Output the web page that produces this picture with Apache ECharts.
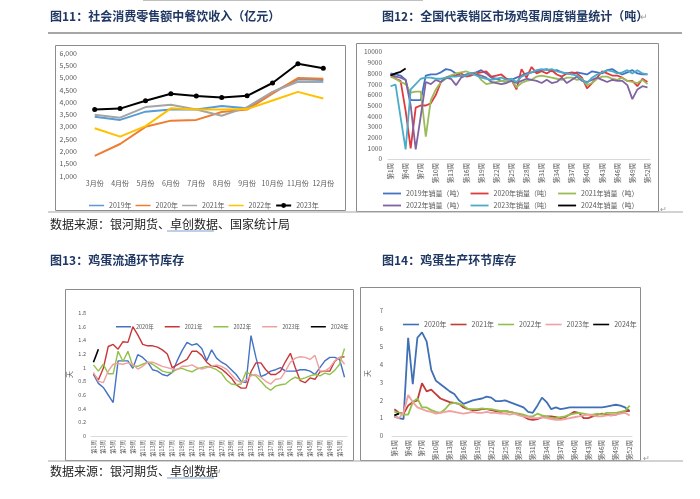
<!DOCTYPE html>
<html><head><meta charset="utf-8">
<script src="https://cdn.jsdelivr.net/npm/echarts@6/dist/echarts.min.js"></script>
<style>html,body{margin:0;padding:0;background:#fff}#c{width:700px;height:499px}</style>
</head><body><div id="c"></div>
<script>
// ---------- Chart 11: 餐饮收入 ----------
const months = ['3月份','4月份','5月份','6月份','7月份','8月份','9月份','10月份','11月份','12月份'];
const rev2019 = [3410,3280,3615,3700,3700,3850,3750,4400,4930,4900];
const rev2020 = [1820,2300,3000,3250,3280,3600,3700,4350,4980,4950];
const rev2021 = [3490,3370,3800,3900,3700,3450,3800,4420,4830,4820];
const rev2022 = [2940,2600,3030,3750,3700,3700,3720,4070,4420,4150];
const rev2023 = [3700,3740,4060,4340,4250,4190,4260,4780,5560,5380];

// ---------- Chart 12: 周度销量 ----------
const weekCats = ['第1周','第2周','第3周','第4周','第5周','第6周','第7周','第8周','第9周','第10周','第11周','第12周','第13周','第14周','第15周','第16周','第17周','第18周','第19周','第20周','第21周','第22周','第23周','第24周','第25周','第26周','第27周','第28周','第29周','第30周','第31周','第32周','第33周','第34周','第35周','第36周','第37周','第38周','第39周','第40周','第41周','第42周','第43周','第44周','第45周','第46周','第47周','第48周','第49周','第50周','第51周','第52周'];
const sales2019 = [8000,7900,7800,7400,5500,5500,5500,7800,7900,7900, 8100,8400,8300,8000,7700,7900,8000,8100,8300,8000, 7600,7500,7300,7200,7400,7600,7800,8000,8100,8200, 8300,8400,8200,8300,8100,8000,7900,8100,8000,7900, 8200,8100,8000,8300,8400,8100,7900,8100,8300,8000, 7900,7900];
const sales2020 = [7900,7500,7300,4500,1000,4800,5000,5000,5200,6000, 7200,7600,7800,7800,8000,7700,7800,8000,8100,8200, 7700,7800,7900,7500,7400,6500,8400,7600,8600,8000, 8200,8000,8300,7900,7700,8000,8100,8000,7600,6600, 7100,7600,8200,8000,7800,7800,7600,7300,7300,6800, 7500,7200];
const sales2021 = [7700,7500,7200,7000,6200,6300,6300,2100,5500,6500, 7200,7500,7800,8000,8100,8200,8000,8000,7400,7000, 7100,7200,7300,7200,7400,6700,7100,7300,7400,7700, 7800,7700,7600,7500,7400,7600,7600,7400,7500,6900, 7100,7500,7700,7700,7500,7400,7600,7300,7200,7100, 7400,7000];
const sales2022 = [7950,7700,7600,7400,5000,900,4000,7200,7000,7400, 7200,7600,7500,6900,7600,7800,8000,7900,7800,7600, 7200,7100,7000,7100,7300,7100,7300,7500,7400,7300, 7100,7400,7100,7200,7600,7100,7400,7700,7300,7200, 7400,7600,7400,7200,7400,7300,7300,6900,5600,6500, 6800,6700];
const sales2023 = [6800,6950,3900,900,6500,7000,7500,7600,7600,7500, 7500,7600,7700,7700,7800,7800,8000,7800,7600,7500, 7400,7500,7600,7400,7500,7200,7700,7900,8100,8300, 8400,8300,8400,8200,8100,8000,7900,7800,7400,7100, 7600,7900,8100,8300,8200,8000,8100,8300,8000,8300, 8000,7900];
const sales2024 = [7800,8000,8150,8450];

// ---------- Chart 13: 流通环节库存 (天) ----------
const circ2020 = [0.90,0.77,0.71,0.60,0.49,1.10,1.10,1.10,0.99,1.19, 1.15,1.08,0.97,0.95,0.90,0.88,0.93,1.10,1.25,1.37, 1.33,1.35,1.28,1.10,1.26,1.14,1.08,1.04,0.97,0.90, 0.80,0.78,1.47,1.15,0.87,0.90,0.95,0.97,1.00,0.95, 0.95,0.95,0.97,0.97,0.95,0.90,1.00,1.10,1.15,1.15, 1.12,0.86];
const circ2021 = [0.91,0.82,0.99,1.31,1.34,1.27,1.38,1.37,1.60,1.48, 1.34,1.32,1.32,1.30,1.26,1.20,1.00,1.04,1.08,1.12, 1.24,1.24,1.18,1.08,1.02,1.02,0.98,0.92,0.85,0.75, 0.70,0.70,0.94,1.07,1.07,0.97,0.90,0.90,0.95,1.09, 1.21,1.00,0.81,0.78,0.85,0.83,0.94,0.95,0.95,1.09, 1.15,1.16];
const circ2022 = [1.04,0.95,1.05,0.91,0.91,1.24,1.09,1.24,1.02,1.02, 1.05,1.08,1.05,1.00,0.95,0.93,0.93,0.98,0.99,0.96, 0.94,0.98,1.00,1.02,1.00,0.97,0.92,0.82,0.76,0.75, 0.76,0.94,0.90,0.88,0.80,0.72,0.67,0.73,0.75,0.76, 0.82,0.86,0.83,0.85,0.88,0.90,0.88,0.92,0.90,0.96, 1.05,1.28];
const circ2023 = [0.93,0.80,0.78,0.95,1.05,1.06,1.05,1.07,1.05,0.98, 1.02,1.08,1.08,1.05,1.02,1.00,0.98,0.97,1.02,1.02, 1.04,1.00,0.98,1.00,1.02,1.04,1.02,0.98,0.90,0.82, 0.78,0.82,0.88,0.90,0.86,0.80,0.76,0.83,0.84,0.95, 1.08,1.14,1.16,1.15,1.12,1.18,0.95,0.95,1.00,1.10, 1.15,1.05];
const circ2024 = [1.08,1.27];

// ---------- Chart 14: 生产环节库存 (天) ----------
const prod2020 = [1.10,1.00,0.95,5.50,2.90,5.50,5.80,5.30,3.70,3.10, 2.90,2.70,2.50,2.35,2.00,1.80,1.90,2.00,2.05,2.10, 2.20,2.15,1.95,1.95,2.00,1.90,1.80,1.70,1.60,1.35, 1.30,1.70,2.15,1.90,1.50,1.60,1.50,1.55,1.60,1.60, 1.60,1.60,1.60,1.60,1.60,1.60,1.65,1.70,1.75,1.70, 1.60,1.40];
const prod2021 = [1.50,1.30,1.25,1.70,1.90,2.00,2.95,2.50,2.60,2.35, 2.10,2.00,1.90,1.85,1.80,1.60,1.50,1.45,1.45,1.50, 1.50,1.45,1.40,1.35,1.40,1.35,1.30,1.20,1.10,0.95, 0.90,0.95,1.05,1.10,1.10,1.05,1.00,1.05,1.20,1.35, 1.30,1.00,1.00,1.10,1.20,1.25,1.20,1.15,1.20,1.30, 1.40,1.40];
const prod2022 = [1.35,1.30,1.20,1.20,1.90,2.10,1.60,1.60,1.45,1.35, 1.30,1.50,1.80,1.85,1.80,1.70,1.50,1.50,1.50,1.55, 1.50,1.50,1.45,1.40,1.40,1.35,1.30,1.25,1.20,1.10, 1.10,1.25,1.15,1.10,1.00,1.00,1.05,1.10,1.20,1.25, 1.30,1.25,1.20,1.20,1.25,1.20,1.30,1.30,1.30,1.35, 1.40,1.70];
const prod2023 = [1.10,1.00,1.30,2.30,1.90,1.60,1.50,1.40,1.35,1.25, 1.30,1.35,1.40,1.35,1.30,1.25,1.30,1.35,1.30,1.30, 1.35,1.30,1.30,1.25,1.25,1.20,1.25,1.15,1.10,1.05, 1.00,1.00,1.05,1.00,0.95,0.90,0.90,0.95,1.00,1.05, 1.10,1.15,1.20,1.15,1.10,1.10,1.15,1.15,1.20,1.25, 1.30,1.15];
const prod2024 = [1.15,1.25];

const FONT = '"Noto Sans CJK SC", "Noto Sans", sans-serif';
const LBL = '#595959';
const LINE_ICON = 'path://M0,0H20V2H0Z';
const stripTag = n => n.split('#')[0];
const items = (names) => names.map(n => ({name: n, icon: LINE_ICON}));

function line(name, data, color, xi, width, extra) {
  return Object.assign({
    type: 'line', name: name, data: data, xAxisIndex: xi, yAxisIndex: xi,
    symbol: 'none', smooth: false, lineStyle: {color: color, width: width},
    itemStyle: {color: color}, emphasis: {disabled: true}
  }, extra || {});
}

function catAxis(gi, interval, rotate, fs) {
  return {
    type: 'category', gridIndex: gi, data: gi === 0 ? months : weekCats, boundaryGap: true,
    axisTick: {show: false},
    axisLine: {show: gi !== 0, lineStyle: {color: '#d9d9d9', width: 1}},
    axisLabel: {interval: interval, rotate: rotate, fontSize: fs, color: LBL, fontFamily: FONT, margin: 4}
  };
}

const option = {
  animation: false,
  backgroundColor: '#ffffff',
  textStyle: {fontFamily: FONT},
  grid: [
    {left: 82, top: 53, width: 254, height: 123, containLabel: false},
    {left: 388, top: 52, width: 262, height: 107, containLabel: false},
    {left: 91, top: 313, width: 256, height: 123, containLabel: false},
    {left: 392, top: 311, width: 240, height: 125, containLabel: false}
  ],
  xAxis: [
    catAxis(0, 0, 0, 7),
    catAxis(1, 2, 90, 6.5),
    catAxis(2, 1, 90, 5.5),
    catAxis(3, 2, 90, 6.5)
  ],
  yAxis: [
    {type: 'value', gridIndex: 0, min: 1000, max: 6000, interval: 500, splitLine: {show: false},
     axisLine: {show: false}, axisTick: {show: false},
     axisLabel: {fontSize: 7, color: LBL, margin: 5, formatter: v => v.toLocaleString('en-US')}},
    {type: 'value', gridIndex: 1, min: 0, max: 10000, interval: 1000, splitLine: {show: false},
     axisLine: {show: false}, axisTick: {show: false},
     axisLabel: {fontSize: 6.5, color: LBL, margin: 6, formatter: v => String(v)}},
    {type: 'value', gridIndex: 2, min: 0, max: 1.8, interval: 0.2, splitLine: {show: false},
     axisLine: {show: false}, axisTick: {show: false},
     name: '天', nameLocation: 'middle', nameRotate: 90, nameGap: 18,
     nameTextStyle: {fontSize: 7, color: LBL},
     axisLabel: {fontSize: 5.5, color: LBL, margin: 5}},
    {type: 'value', gridIndex: 3, min: 0, max: 7, interval: 1, splitLine: {show: false},
     axisLine: {show: false}, axisTick: {show: false},
     name: '天', nameLocation: 'middle', nameRotate: 90, nameGap: 21,
     nameTextStyle: {fontSize: 7, color: LBL},
     axisLabel: {fontSize: 6, color: LBL, margin: 9}}
  ],
  legend: [
    {left: 84, top: 197, itemWidth: 15, itemHeight: 6, itemGap: 4, formatter: stripTag,
     textStyle: {fontSize: 7, color: LBL},
     data: items(['2019年#a','2020年#a','2021年#a','2022年#a']).concat([{name: '2023年#a'}])},
    {left: 378, top: 185, itemWidth: 18, itemHeight: 6, itemGap: 7, formatter: stripTag,
     textStyle: {fontSize: 7, color: LBL}, data: items(['2019年销量（吨）','2020年销量（吨）','2021年销量（吨）'])},
    {left: 378, top: 197, itemWidth: 18, itemHeight: 6, itemGap: 7, formatter: stripTag,
     textStyle: {fontSize: 7, color: LBL}, data: items(['2022年销量（吨）','2023年销量（吨）','2024年销量（吨）'])},
    {left: 111, top: 319, itemWidth: 15, itemHeight: 4, itemGap: 11, formatter: stripTag,
     textStyle: {fontSize: 5.5, color: LBL}, data: items(['2020年#c','2021年#c','2022年#c','2023年#c','2024年#c'])},
    {left: 398, top: 316, itemWidth: 16, itemHeight: 6, itemGap: 4, formatter: stripTag,
     textStyle: {fontSize: 7, color: LBL}, data: items(['2020年#d','2021年#d','2022年#d','2023年#d','2024年#d'])}
  ],
  series: [
    line('2019年#a', rev2019, '#5b9bd5', 0, 2),
    line('2020年#a', rev2020, '#ed7d31', 0, 2),
    line('2021年#a', rev2021, '#a5a5a5', 0, 2),
    line('2022年#a', rev2022, '#ffc000', 0, 2),
    line('2023年#a', rev2023, '#000000', 0, 2, {symbol: 'circle', symbolSize: 5, showSymbol: true}),

    line('2019年销量（吨）', sales2019, '#4472c4', 1, 1.8),
    line('2020年销量（吨）', sales2020, '#e0393e', 1, 1.8),
    line('2021年销量（吨）', sales2021, '#9bbb59', 1, 1.8),
    line('2022年销量（吨）', sales2022, '#8064a2', 1, 1.8),
    line('2023年销量（吨）', sales2023, '#4bacc6', 1, 1.8),
    line('2024年销量（吨）', sales2024, '#000000', 1, 1.8),

    line('2020年#c', circ2020, '#4472c4', 2, 1.4),
    line('2021年#c', circ2021, '#c9363a', 2, 1.4),
    line('2022年#c', circ2022, '#92c14a', 2, 1.4),
    line('2023年#c', circ2023, '#eea0a0', 2, 1.4),
    line('2024年#c', circ2024, '#000000', 2, 1.6),

    line('2020年#d', prod2020, '#3f6fb5', 3, 1.8),
    line('2021年#d', prod2021, '#c43a3a', 3, 1.8),
    line('2022年#d', prod2022, '#92c14a', 3, 1.8),
    line('2023年#d', prod2023, '#f0a0a0', 3, 1.8),
    line('2024年#d', prod2024, '#000000', 3, 1.8)
  ],
  graphic: [
    {type: 'line', shape: {x1: 143, y1: 0.5, x2: 423, y2: 0.5}, style: {stroke: '#c0c0c0', lineWidth: 1}},
    {type: 'text', x: 50, y: 16, style: {text: '图11：社会消费零售额中餐饮收入（亿元）', fontSize: 12, fontWeight: 'bold', fontFamily: FONT, fill: '#1f3763', verticalAlign: 'middle'}},
    {type: 'text', x: 382, y: 16, style: {text: '图12：全国代表销区市场鸡蛋周度销量统计（吨）', fontSize: 12, fontWeight: 'bold', fontFamily: FONT, fill: '#1f3763', verticalAlign: 'middle'}},
    {type: 'text', x: 640, y: 17, style: {text: '↵', fontSize: 9, fontFamily: FONT, fill: '#999999', verticalAlign: 'middle'}},
    {type: 'line', shape: {x1: 48, y1: 33, x2: 682, y2: 33}, style: {stroke: '#a6a6a6', lineWidth: 2}},
    {type: 'rect', shape: {x: 55.5, y: 45.5, width: 290, height: 165}, style: {fill: 'none', stroke: '#8c8c8c', lineWidth: 1}},
    {type: 'rect', shape: {x: 356.5, y: 43.5, width: 302, height: 168}, style: {fill: 'none', stroke: '#8c8c8c', lineWidth: 1}},
    {type: 'text', x: 660, y: 209, style: {text: '↵', fontSize: 8, fontFamily: FONT, fill: '#999999', verticalAlign: 'middle'}},
    {type: 'line', shape: {x1: 48, y1: 212, x2: 683, y2: 212}, style: {stroke: '#a6a6a6', lineWidth: 1.2}},
    {type: 'text', x: 50, y: 224, style: {text: '数据来源：银河期货、卓创数据、国家统计局', fontSize: 12, fontFamily: FONT, fill: '#222222', verticalAlign: 'middle'}},
    {type: 'line', shape: {x1: 167, y1: 231, x2: 214, y2: 231}, style: {stroke: '#7f9fcf', lineWidth: 1}},
    {type: 'text', x: 283, y: 225, style: {text: '↵', fontSize: 9, fontFamily: FONT, fill: '#999999', verticalAlign: 'middle'}},

    {type: 'text', x: 50, y: 260, style: {text: '图13：鸡蛋流通环节库存', fontSize: 12, fontWeight: 'bold', fontFamily: FONT, fill: '#1f3763', verticalAlign: 'middle'}},
    {type: 'text', x: 382, y: 260, style: {text: '图14：鸡蛋生产环节库存', fontSize: 12, fontWeight: 'bold', fontFamily: FONT, fill: '#1f3763', verticalAlign: 'middle'}},
    {type: 'text', x: 506, y: 261, style: {text: '↵', fontSize: 9, fontFamily: FONT, fill: '#999999', verticalAlign: 'middle'}},
    {type: 'rect', shape: {x: 65.5, y: 289.5, width: 288, height: 171}, style: {fill: 'none', stroke: '#8c8c8c', lineWidth: 1}},
    {type: 'rect', shape: {x: 360.5, y: 287.5, width: 280, height: 173}, style: {fill: 'none', stroke: '#8c8c8c', lineWidth: 1}},
    {type: 'text', x: 643, y: 458, style: {text: '↵', fontSize: 8, fontFamily: FONT, fill: '#999999', verticalAlign: 'middle'}},
    {type: 'line', shape: {x1: 48, y1: 461, x2: 683, y2: 461}, style: {stroke: '#a6a6a6', lineWidth: 1.2}},
    {type: 'text', x: 50, y: 471, style: {text: '数据来源：银河期货、卓创数据', fontSize: 12, fontFamily: FONT, fill: '#222222', verticalAlign: 'middle'}},
    {type: 'line', shape: {x1: 167, y1: 478, x2: 214, y2: 478}, style: {stroke: '#7f9fcf', lineWidth: 1}},
    {type: 'text', x: 214, y: 472, style: {text: '↵', fontSize: 9, fontFamily: FONT, fill: '#999999', verticalAlign: 'middle'}}
  ]
};
const chart = echarts.init(document.getElementById('c'));
chart.setOption(option);
</script>
</body></html>
